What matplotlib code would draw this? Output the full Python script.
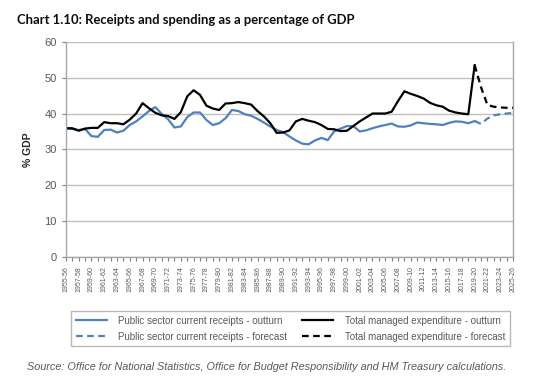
import matplotlib
matplotlib.use('Agg')
import matplotlib.pyplot as plt
from matplotlib.ticker import MultipleLocator

# Financial years 1955-56 .. 2025-26
years = [f"{y}-{str(y + 1)[-2:]}" for y in range(1955, 2026)]

# Public sector current receipts (% GDP), outturn up to index 64
receipts_outturn = [
    35.8, 35.7, 35.4, 35.7, 33.7, 33.5, 35.4, 35.5, 34.7, 35.2,
    36.8, 37.8, 39.2, 40.7, 41.8, 39.9, 38.4, 36.1, 36.4, 39.0,
    40.3, 40.3, 38.2, 36.8, 37.3, 38.7, 41.0, 40.7, 39.8, 39.4,
    38.5, 37.5, 36.4, 35.4, 34.8, 33.6, 32.5, 31.6, 31.4, 32.5,
    33.2, 32.6, 35.0, 35.8, 36.5, 36.5, 35.0, 35.3, 35.9, 36.4,
    36.8, 37.2, 36.4, 36.3, 36.7, 37.5, 37.3, 37.1, 37.0, 36.8,
    37.4, 37.8, 37.7, 37.3, 37.9,
]
receipts_forecast = [37.9, 37.1, 38.6, 39.5, 39.8, 40.0, 40.2]

# Total managed expenditure (% GDP)
tme_outturn = [
    35.9, 35.9, 35.2, 35.8, 36.0, 36.0, 37.6, 37.3, 37.3, 37.0,
    38.3, 40.0, 42.9, 41.5, 40.2, 39.5, 39.3, 38.5, 40.4, 44.8,
    46.5, 45.2, 42.2, 41.4, 41.0, 42.8, 42.9, 43.2, 42.9, 42.5,
    40.7, 39.2, 37.3, 34.6, 34.7, 35.3, 37.8, 38.5, 38.0, 37.6,
    36.8, 35.7, 35.6, 35.1, 35.2, 36.5, 37.8, 38.9, 40.0, 40.0,
    40.0, 40.5, 43.5, 46.2, 45.5, 44.9, 44.2, 43.0, 42.3, 41.9,
    40.8, 40.3, 40.0, 39.8, 53.5,
]
tme_forecast = [53.5, 47.3, 42.4, 41.9, 41.7, 41.6, 41.6]

blue = '#4f81bd'
grey = '#595959'
plt.rcParams['font.family'] = ['Liberation Sans', 'DejaVu Sans']

fig = plt.figure(figsize=(5.4, 3.84), dpi=100)
ax = fig.add_axes([0.122, 0.331, 0.828, 0.560])

x_out = list(range(len(receipts_outturn)))
x_fc = list(range(len(receipts_outturn) - 1, len(years)))

ax.plot(x_out, receipts_outturn, color=blue, lw=1.6,
        label='Public sector current receipts - outturn')
ax.plot(x_fc, receipts_forecast, color=blue, lw=1.6, ls=(0, (3, 2)),
        label='Public sector current receipts - forecast')
ax.plot(x_out, tme_outturn, color='black', lw=1.6,
        label='Total managed expenditure - outturn')
ax.plot(x_fc, tme_forecast, color='black', lw=1.6, ls=(0, (3, 2)),
        label='Total managed expenditure - forecast')

ax.set_xlim(0, len(years) - 1)
ax.set_ylim(0, 60)
ax.yaxis.set_major_locator(MultipleLocator(10))
ax.grid(axis='y', color='#bfbfbf', lw=1)
ax.set_axisbelow(True)

ax.set_xticks(range(0, len(years), 2))
ax.set_xticklabels(years[::2], rotation=90, fontsize=5, color=grey)
ax.set_xticks(range(len(years)), minor=True)
ax.tick_params(axis='x', which='both', length=3, color='#808080', width=0.8)
ax.tick_params(axis='y', labelsize=8, colors=grey, length=3)
ax.tick_params(axis='y', color='#808080')

for side in ['left', 'bottom', 'right']:
    ax.spines[side].set_color('#a6a6a6')
    ax.spines[side].set_linewidth(1)
ax.spines['top'].set_visible(False)

ax.set_ylabel('% GDP', fontsize=7.5, fontweight='bold', color='#262626', labelpad=8)

fig.text(0.031, 0.948, 'Chart 1.10: Receipts and spending as a percentage of GDP',
         fontsize=9.4, fontweight='bold', family=['Lato', 'DejaVu Sans'],
         color='#0b0c0c', va='center')

leg = fig.legend(loc='upper left', bbox_to_anchor=(0.122, 0.103, 0.832, 0.1),
                 mode='expand', ncol=2, fontsize=7, frameon=True, fancybox=False,
                 edgecolor='#a6a6a6', handlelength=3.2, handletextpad=1.2,
                 borderpad=0.5, labelspacing=0.6, columnspacing=1.0)
leg.get_frame().set_linewidth(1)
for t in leg.get_texts():
    t.set_color(grey)

fig.text(0.05, 0.044,
         'Source: Office for National Statistics, Office for Budget Responsibility and HM Treasury calculations.',
         fontsize=7.8, style='italic', color=grey, va='center')

fig.savefig('out.png', dpi=100)
